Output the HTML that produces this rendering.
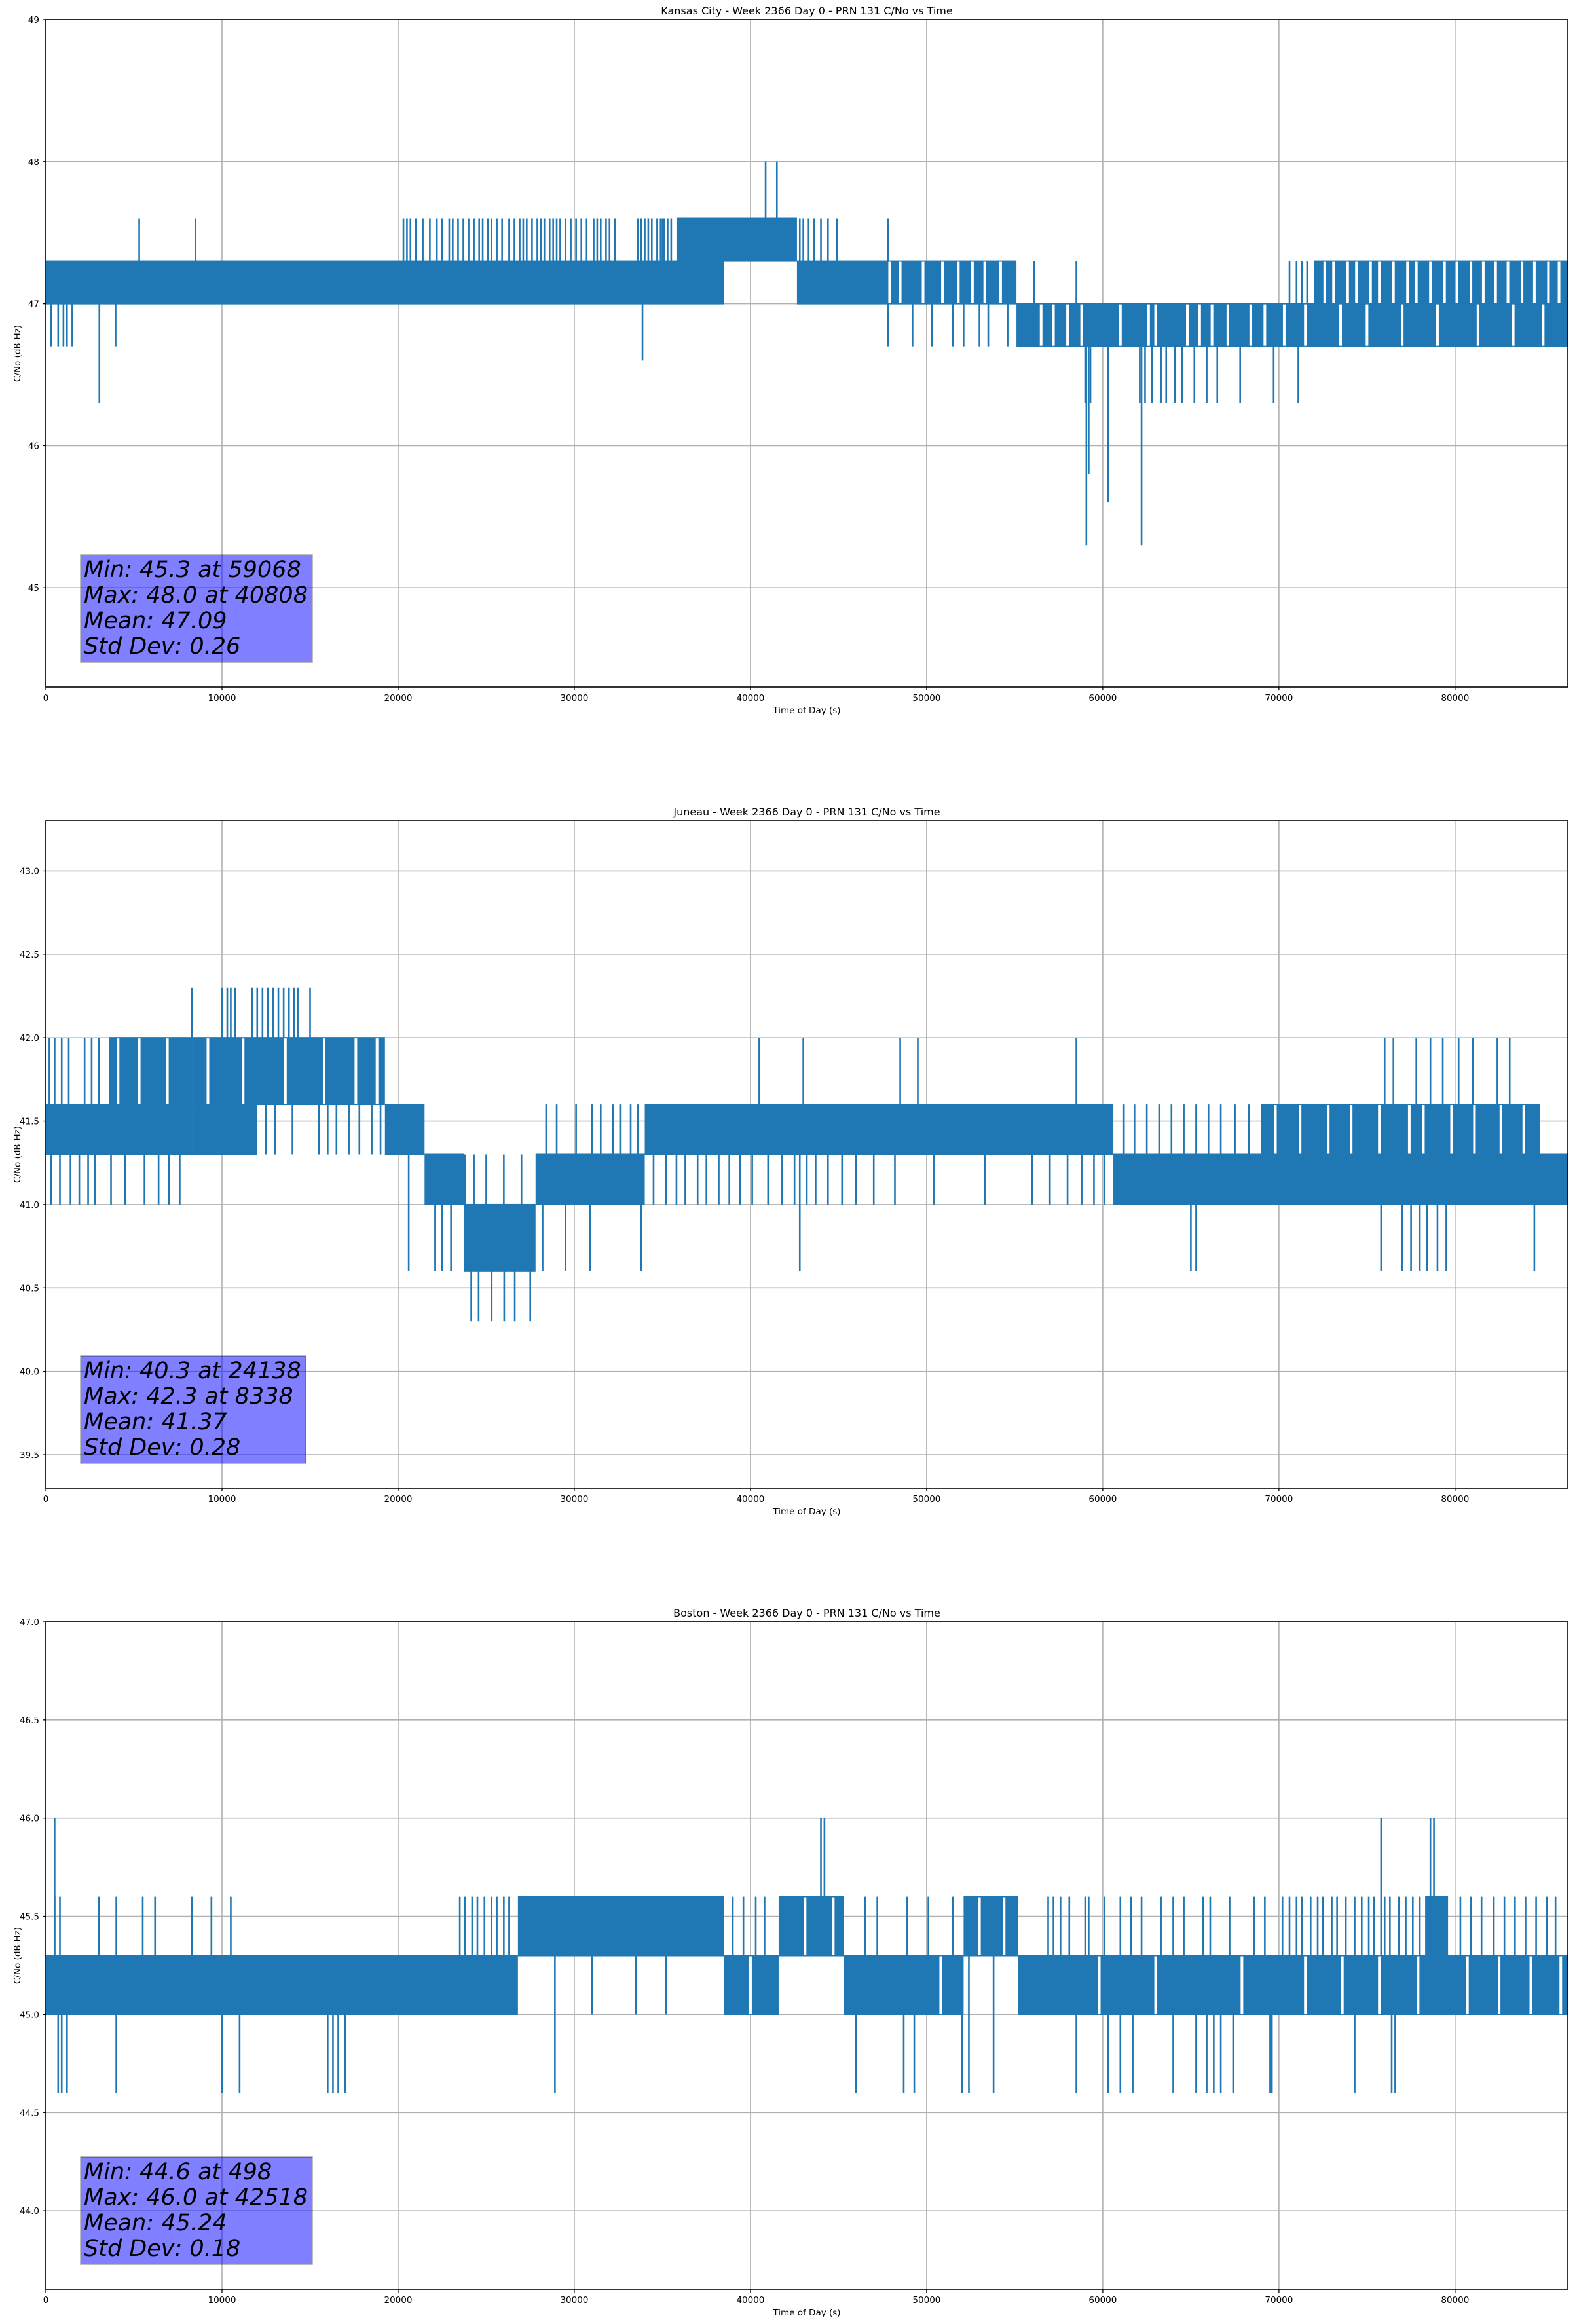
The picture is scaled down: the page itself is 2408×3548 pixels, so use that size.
<!DOCTYPE html>
<html><head><meta charset="utf-8">
<style>
html,body{margin:0;padding:0;background:#fff;}
svg{display:block;}
text{font-family:"DejaVu Sans","Liberation Sans",sans-serif;fill:#000;}
</style></head>
<body>
<svg id="fig" xmlns="http://www.w3.org/2000/svg" width="2408" height="3548" viewBox="0 0 2408 3548">
<rect x="0" y="0" width="2408" height="3548" fill="#fff"/>
</svg>
<script>
// ---------- Shared axis data ----------
const xTicks = [0,10000,20000,30000,40000,50000,60000,70000,80000];
const xMin = 0, xMax = 86400;
const titles = ["Kansas City - Week 2366 Day 0 - PRN 131 C/No vs Time",
                "Juneau - Week 2366 Day 0 - PRN 131 C/No vs Time",
                "Boston - Week 2366 Day 0 - PRN 131 C/No vs Time"];
const yMins = [44.3, 39.3, 43.6];
const yMaxs = [49.0, 43.3, 47.0];
const ksYTicks = [45,46,47,48,49];
const ksYTickLabels = ["45","46","47","48","49"];
const jnYTicks = [39.5,40.0,40.5,41.0,41.5,42.0,42.5,43.0];
const jnYTickLabels = ["39.5","40.0","40.5","41.0","41.5","42.0","42.5","43.0"];
const boYTicks = [44.0,44.5,45.0,45.5,46.0,46.5,47.0];
const boYTickLabels = ["44.0","44.5","45.0","45.5","46.0","46.5","47.0"];
const statsKs = ["Min: 45.3 at 59068","Max: 48.0 at 40808","Mean: 47.09","Std Dev: 0.26"];
const statsJn = ["Min: 40.3 at 24138","Max: 42.3 at 8338","Mean: 41.37","Std Dev: 0.28"];
const statsBo = ["Min: 44.6 at 498","Max: 46.0 at 42518","Mean: 45.24","Std Dev: 0.18"];

// ---------- Kansas City ----------
const ksBandX0 = [0,     38500, 42640, 55100, 35800, 72000];
const ksBandX1 = [38500, 42640, 55100, 86400, 38500, 86400];
const ksBandLo = [47.0,  47.3,  47.0,  46.7,  47.3,  47.0];
const ksBandHi = [47.3,  47.6,  47.3,  47.0,  47.6,  47.3];
const ksSpikeX = [5300,8500,20300,20500,21400,22200,22900,23400,24000,24600,25100,25300,26300,26600,27100,27300,27900,28300,28800,29200,29500,30700,31100,31500,31800,32000,32300,34000,34200,34400,34900,35300,35500,42800,43000,43300,43600,44000,44400,44900,47800,
  20700,21000,21800,22500,23100,23700,24300,24800,25600,25900,26900,27600,28100,28600,29000,29800,30100,30400,31300,33800,33600,35000,35100,34700,
  40860,41500,
  300,700,1000,1200,1500,3040,3960,33870,47800,49200,50300,51500,52100,53000,53500,54600,
  59000,59300,62100,62400,62800,63300,63600,64100,64500,65200,65900,66500,67800,69700,71100,
  59068,59200,60300,62200,
  56100,58500,70600,71000,71300,71600];
const ksSpikeV = [47.6,47.6,47.6,47.6,47.6,47.6,47.6,47.6,47.6,47.6,47.6,47.6,47.6,47.6,47.6,47.6,47.6,47.6,47.6,47.6,47.6,47.6,47.6,47.6,47.6,47.6,47.6,47.6,47.6,47.6,47.6,47.6,47.6,47.6,47.6,47.6,47.6,47.6,47.6,47.6,47.6,
  47.6,47.6,47.6,47.6,47.6,47.6,47.6,47.6,47.6,47.6,47.6,47.6,47.6,47.6,47.6,47.6,47.6,47.6,47.6,47.6,47.6,47.6,47.6,47.6,
  48.0,48.0,
  46.7,46.7,46.7,46.7,46.7,46.3,46.7,46.6,46.7,46.7,46.7,46.7,46.7,46.7,46.7,46.7,
  46.3,46.3,46.3,46.3,46.3,46.3,46.3,46.3,46.3,46.3,46.3,46.3,46.3,46.3,46.3,
  45.3,45.8,45.6,45.3,
  47.3,47.3,47.3,47.3,47.3,47.3];
const ksGapX  = [72600,73100,73900,74400,75200,75700,76500,77300,77800,78600,79400,80100,80900,81600,82300,83000,83800,84500,85300,85900,
  56500,57200,58000,58800,61000,62600,63000,64800,65500,66200,67100,68400,69200,70300,71500,73500,75000,77000,79000,81300,83300,85000,
  47900,48500,49800,50900,51800,52600,53300,54200];
const ksGapLo = [47.0,47.0,47.0,47.0,47.0,47.0,47.0,47.0,47.0,47.0,47.0,47.0,47.0,47.0,47.0,47.0,47.0,47.0,47.0,47.0,
  46.7,46.7,46.7,46.7,46.7,46.7,46.7,46.7,46.7,46.7,46.7,46.7,46.7,46.7,46.7,46.7,46.7,46.7,46.7,46.7,46.7,46.7,
  47.0,47.0,47.0,47.0,47.0,47.0,47.0,47.0];
const ksGapHi = [47.3,47.3,47.3,47.3,47.3,47.3,47.3,47.3,47.3,47.3,47.3,47.3,47.3,47.3,47.3,47.3,47.3,47.3,47.3,47.3,
  47.0,47.0,47.0,47.0,47.0,47.0,47.0,47.0,47.0,47.0,47.0,47.0,47.0,47.0,47.0,47.0,47.0,47.0,47.0,47.0,47.0,47.0,
  47.3,47.3,47.3,47.3,47.3,47.3,47.3,47.3];

// ---------- Juneau ----------
const jnBandX0 = [0,    3600, 8400, 19250, 21500, 23750, 27800, 34000, 60600, 69000, 8400];
const jnBandX1 = [8400, 8400, 19250,21500, 23750, 27800, 34000, 60600, 86400, 84800, 12000];
const jnBandLo = [41.3, 41.6, 41.6, 41.3,  41.0,  40.6,  41.0,  41.3,  41.0,  41.3,  41.3];
const jnBandHi = [41.6, 42.0, 42.0, 41.6,  41.3,  41.0,  41.3,  41.6,  41.3,  41.6,  41.6];
const jnSpikeX = [8300,10000,10300,10500,10750,11700,12000,12300,12600,12900,13200,13500,13800,14100,14300,15000,
  200,500,900,1300,2200,2600,3000,40500,43000,48500,49500,58500,76000,76500,77800,78600,79300,80200,81000,82400,83100,
  300,800,1400,1900,2400,2800,3700,4500,5600,6400,7000,7600,
  12500,13000,14000,15500,16000,16500,17200,17800,18500,19000,
  20600,22100,22500,23000,
  24150,24570,25310,26020,26620,27500,
  23800,24300,25000,26000,27000,
  28400,29000,30100,31000,31500,32200,32600,33200,33600,
  28200,29500,30900,33800,
  34500,35200,35800,36300,37000,37500,38200,38800,39400,40100,41000,41800,42500,43200,43700,44400,45200,46000,47000,48200,50400,53300,56000,57000,58000,58800,59500,60100,
  42800,
  61200,61800,62500,63200,63900,64600,65300,66000,66700,67500,68300,
  65000,65300,75800,77000,77500,78000,78400,79000,79500,84500];
const jnSpikeV = [42.3,42.3,42.3,42.3,42.3,42.3,42.3,42.3,42.3,42.3,42.3,42.3,42.3,42.3,42.3,42.3,
  42.0,42.0,42.0,42.0,42.0,42.0,42.0,42.0,42.0,42.0,42.0,42.0,42.0,42.0,42.0,42.0,42.0,42.0,42.0,42.0,42.0,
  41.0,41.0,41.0,41.0,41.0,41.0,41.0,41.0,41.0,41.0,41.0,41.0,
  41.3,41.3,41.3,41.3,41.3,41.3,41.3,41.3,41.3,41.3,
  40.6,40.6,40.6,40.6,
  40.3,40.3,40.3,40.3,40.3,40.3,
  41.3,41.3,41.3,41.3,41.3,
  41.6,41.6,41.6,41.6,41.6,41.6,41.6,41.6,41.6,
  40.6,40.6,40.6,40.6,
  41.0,41.0,41.0,41.0,41.0,41.0,41.0,41.0,41.0,41.0,41.0,41.0,41.0,41.0,41.0,41.0,41.0,41.0,41.0,41.0,41.0,41.0,41.0,41.0,41.0,41.0,41.0,41.0,
  40.6,
  41.6,41.6,41.6,41.6,41.6,41.6,41.6,41.6,41.6,41.6,41.6,
  40.6,40.6,40.6,40.6,40.6,40.6,40.6,40.6,40.6,40.6];
const jnGapX  = [69800,71200,72800,74100,75700,77400,78200,79800,81100,82600,83900,
  4100,5300,6900,9200,11200,13600,15800,17600,18800];
const jnGapLo = [41.3,41.3,41.3,41.3,41.3,41.3,41.3,41.3,41.3,41.3,41.3,
  41.6,41.6,41.6,41.6,41.6,41.6,41.6,41.6,41.6];
const jnGapHi = [41.6,41.6,41.6,41.6,41.6,41.6,41.6,41.6,41.6,41.6,41.6,
  42.0,42.0,42.0,42.0,42.0,42.0,42.0,42.0,42.0];

// ---------- Boston ----------
const boBandX0 = [0,     26800, 38500, 41600, 45300, 52100, 55200, 78300];
const boBandX1 = [26800, 38500, 41600, 45300, 52100, 55200, 86400, 79600];
const boBandLo = [45.0,  45.3,  45.0,  45.3,  45.0,  45.3,  45.0,  45.3];
const boBandHi = [45.3,  45.6,  45.3,  45.6,  45.3,  45.6,  45.3,  45.6];
const boSpikeX = [500,800,3000,4000,5500,6200,8300,9400,10500,23500,23800,24200,24500,24900,25300,25600,26000,26300,39000,39600,40300,40800,46500,47200,48900,50100,51500,
  56900,57200,57600,58100,59000,59200,60100,61000,61600,62200,63300,64000,64600,65700,66100,67200,68600,69200,80300,80900,81500,82200,82800,83400,84000,84600,85200,85700,
  70200,70600,71000,71300,71800,72200,72500,73000,73300,73800,74300,74700,75100,75400,76000,76300,76800,77200,77600,78000,
  42530,44000,44200,75800,78600,78800,
  498,700,900,1200,4000,10000,11000,16000,16300,16600,17000,46000,48700,49300,52000,52400,53800,58500,60300,61000,61700,64000,65300,65900,66300,66700,67400,69500,69600,74300,76400,76600,
  28900,31000,33500,35200];
const boSpikeV = [45.6,45.6,45.6,45.6,45.6,45.6,45.6,45.6,45.6,45.6,45.6,45.6,45.6,45.6,45.6,45.6,45.6,45.6,45.6,45.6,45.6,45.6,45.6,45.6,45.6,45.6,45.6,
  45.6,45.6,45.6,45.6,45.6,45.6,45.6,45.6,45.6,45.6,45.6,45.6,45.6,45.6,45.6,45.6,45.6,45.6,45.6,45.6,45.6,45.6,45.6,45.6,45.6,45.6,45.6,45.6,45.6,
  45.6,45.6,45.6,45.6,45.6,45.6,45.6,45.6,45.6,45.6,45.6,45.6,45.6,45.6,45.6,45.6,45.6,45.6,45.6,45.6,
  46.0,46.0,46.0,46.0,46.0,46.0,
  44.6,44.6,44.6,44.6,44.6,44.6,44.6,44.6,44.6,44.6,44.6,44.6,44.6,44.6,44.6,44.6,44.6,44.6,44.6,44.6,44.6,44.6,44.6,44.6,44.6,44.6,44.6,44.6,44.6,44.6,44.6,44.6,
  45.0,45.0,45.0,45.0];
const boGapX  = [43100,44700,53000,54400,40000,50800,59800,63000,67900,71500,73600,75700,77900,80700,82500,84300,86000];
const boGapLo = [45.3,45.3,45.3,45.3,45.0,45.0,45.0,45.0,45.0,45.0,45.0,45.0,45.0,45.0,45.0,45.0,45.0];
const boGapHi = [45.6,45.6,45.6,45.6,45.3,45.3,45.3,45.3,45.3,45.3,45.3,45.3,45.3,45.3,45.3,45.3,45.3];

// ---------- Rendering ----------
const NS = "http://www.w3.org/2000/svg";
const svg = document.getElementById("fig");
const AX_L = 70, AX_R = 2394, AX_H = 1019;
const AX_TOPS = [30, 1253, 2476];
const BLUE = "#1f77b4";

function mk(tag, attrs, parent) {
  const e = document.createElementNS(NS, tag);
  for (const k in attrs) e.setAttribute(k, attrs[k]);
  parent.appendChild(e);
  return e;
}

const panels = [
  {key:"kansas-city", yTicks:ksYTicks, yLabels:ksYTickLabels, bx0:ksBandX0, bx1:ksBandX1, blo:ksBandLo, bhi:ksBandHi, sx:ksSpikeX, sv:ksSpikeV, gx:ksGapX, glo:ksGapLo, ghi:ksGapHi, stats:statsKs},
  {key:"juneau", yTicks:jnYTicks, yLabels:jnYTickLabels, bx0:jnBandX0, bx1:jnBandX1, blo:jnBandLo, bhi:jnBandHi, sx:jnSpikeX, sv:jnSpikeV, gx:jnGapX, glo:jnGapLo, ghi:jnGapHi, stats:statsJn},
  {key:"boston", yTicks:boYTicks, yLabels:boYTickLabels, bx0:boBandX0, bx1:boBandX1, blo:boBandLo, bhi:boBandHi, sx:boSpikeX, sv:boSpikeV, gx:boGapX, glo:boGapLo, ghi:boGapHi, stats:statsBo}
];

panels.forEach((p, i) => {
  const top = AX_TOPS[i], bot = top + AX_H;
  const yMin = yMins[i], yMax = yMaxs[i];
  const xs = v => AX_L + (v - xMin) / (xMax - xMin) * (AX_R - AX_L);
  const ys = v => bot - (v - yMin) / (yMax - yMin) * AX_H;

  const g = mk("g", {}, svg);
  
  

  // grid
  const grid = mk("g", {stroke:"#b0b0b0", "stroke-width":"1.6"}, g);
  
  
  xTicks.forEach(t => { mk("line", {x1:xs(t), x2:xs(t), y1:top, y2:bot}, grid); });
  p.yTicks.forEach(t => { mk("line", {x1:AX_L, x2:AX_R, y1:ys(t), y2:ys(t)}, grid); });

  // series
  const clipId = "clip" + i;
  const cp = mk("clipPath", {id:clipId}, g);
  mk("rect", {x:AX_L, y:top, width:AX_R-AX_L, height:AX_H}, cp);
  const series = mk("g", {"clip-path":"url(#"+clipId+")"}, g);
  
  
  for (let k = 0; k < p.bx0.length; k++) {
    const r = mk("rect", {x:xs(p.bx0[k]), y:ys(p.bhi[k]) - 1, width:xs(p.bx1[k]) - xs(p.bx0[k]), height:ys(p.blo[k]) - ys(p.bhi[k]) + 2, fill:BLUE}, series);
    
    
  }
  // gaps in bands (white)
  for (let k = 0; k < p.gx.length; k++) {
    const r = mk("rect", {x:xs(p.gx[k]) - 2, y:ys(p.ghi[k]) + 1, width:4, height:ys(p.glo[k]) - ys(p.ghi[k]) - 2, fill:"#fff"}, series);
    
    
  }
  function baseFor(x, v) {
    let best = null;
    for (let k = 0; k < p.bx0.length; k++) {
      if (x >= p.bx0[k] && x <= p.bx1[k]) {
        const b = v > p.bhi[k] ? p.bhi[k] : (v < p.blo[k] ? p.blo[k] : null);
        if (b !== null && (best === null || Math.abs(v - b) < Math.abs(v - best))) best = b;
      }
    }
    return best === null ? v : best;
  }
  for (let k = 0; k < p.sx.length; k++) {
    const b = baseFor(p.sx[k], p.sv[k]);
    const l = mk("line", {x1:xs(p.sx[k]), x2:xs(p.sx[k]), y1:ys(b), y2:ys(p.sv[k]), stroke:BLUE, "stroke-width":"2.6"}, series);
    
    
  }

  // axes frame
  const frame = mk("rect", {x:AX_L, y:top, width:AX_R-AX_L, height:AX_H, fill:"none", stroke:"#000", "stroke-width":"1.6"}, g);
  
  

  // x ticks
  const xt = mk("g", {}, g);
  
  
  xTicks.forEach(t => {
    mk("line", {x1:xs(t), x2:xs(t), y1:bot, y2:bot+5, stroke:"#000", "stroke-width":"1.3"}, xt);
    const tx = mk("text", {x:xs(t), y:bot+21, "text-anchor":"middle", "font-size":"13.5"}, xt);
    tx.textContent = String(t);
    
    
  });
  const xl = mk("text", {x:(AX_L+AX_R)/2, y:bot+40, "text-anchor":"middle", "font-size":"13.5"}, g);
  xl.textContent = "Time of Day (s)";
  
  

  // y ticks
  const yt = mk("g", {}, g);
  
  
  p.yTicks.forEach((t, j) => {
    mk("line", {x1:AX_L-5, x2:AX_L, y1:ys(t), y2:ys(t), stroke:"#000", "stroke-width":"1.3"}, yt);
    const tx = mk("text", {x:AX_L-10, y:ys(t)+5, "text-anchor":"end", "font-size":"13.5"}, yt);
    tx.textContent = p.yLabels[j];
    
    
  });
  const yc = (top + bot) / 2;
  const yl = mk("text", {x:0, y:0, "text-anchor":"middle", "font-size":"13.5", transform:"translate(31," + yc + ") rotate(-90)"}, g);
  yl.textContent = "C/No (dB-Hz)";
  
  

  // title
  const tt = mk("text", {x:(AX_L+AX_R)/2, y:top-8, "text-anchor":"middle", "font-size":"16"}, g);
  tt.textContent = titles[i];
  
  

  // stats box
  const sb = mk("g", {}, g);
  
  
  const boxBottom = bot - 38, boxTop = boxBottom - 164;
  const rect = mk("rect", {x:123, y:boxTop, width:350, height:164, fill:"rgba(0,0,255,0.5)", stroke:"rgba(0,0,0,0.35)", "stroke-width":"1.5"}, sb);
  let maxW = 0;
  p.stats.forEach((s, j) => {
    const tx = mk("text", {x:128, y:boxTop + 34 + j*39, "font-size":"35", "font-style":"italic"}, sb);
    tx.textContent = s;
    
    
    try { maxW = Math.max(maxW, tx.getBBox().width); } catch(e) {}
  });
  if (maxW > 0) rect.setAttribute("width", maxW + 12);
});
</script>
</body></html>
